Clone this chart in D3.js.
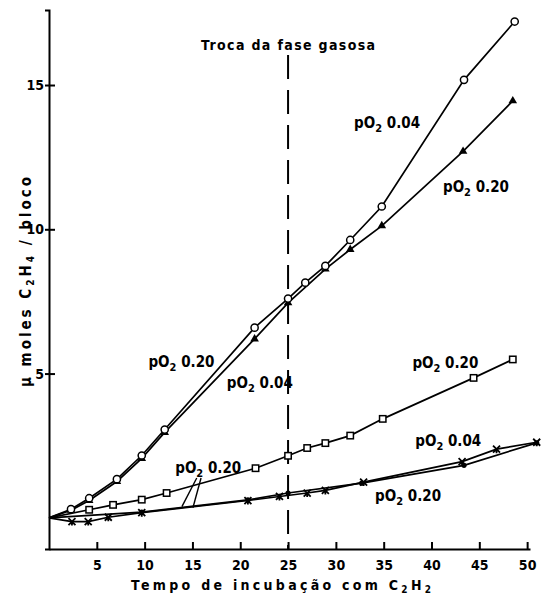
<!DOCTYPE html>
<html lang="en">
<head>
<meta charset="UTF-8">
<script src="https://d3js.org/d3.v7.min.js"></script>
<style>
  body { margin: 0; background: #fff; }
  svg { font-family: "DejaVu Sans Condensed", "DejaVu Sans", sans-serif; font-weight: bold; }
  .axis path, .axis line { stroke: #000; stroke-width: 2; }
  .axis text { font-size: 14px; font-family: "DejaVu Sans Condensed", sans-serif; font-weight: bold; fill: #000; }
  .curve { fill: none; stroke: #000; stroke-width: 1.7; }
</style>
</head>
<body>
<script>
// upper pair (open circles / filled triangles)
const timeCirc = [0, 2.3, 4.2, 7.1, 9.7, 12.1, 21.5, 25, 26.8, 28.9, 31.5, 34.8, 43.4, 48.7];
const circVals = [0, 0.3, 0.68, 1.34, 2.16, 3.06, 6.59, 7.6, 8.15, 8.73, 9.63, 10.79, 15.18, 17.2];
const timeTri = [0, 2.3, 4.2, 7.1, 9.7, 12.1, 21.5, 25, 28.9, 31.5, 34.8, 43.3, 48.5];
const triVals = [0, 0.26, 0.6, 1.26, 2.06, 2.96, 6.2, 7.45, 8.62, 9.3, 10.12, 12.7, 14.45];
// open squares
const timeSq = [0, 4.2, 6.7, 9.7, 12.3, 21.6, 25, 27, 28.9, 31.5, 34.9, 44.4, 48.5];
const sqVals = [0, 0.28, 0.45, 0.63, 0.86, 1.72, 2.15, 2.42, 2.59, 2.85, 3.43, 4.85, 5.49];
// lower pair (crosses / filled dots)
const timeX = [0, 2.4, 4.1, 6.2, 9.7, 20.8, 24.1, 27, 28.9, 32.9, 43.2, 46.8, 51];
const xVals = [0, -0.13, -0.13, 0.02, 0.18, 0.6, 0.74, 0.86, 0.95, 1.24, 1.95, 2.38, 2.62];
const timeDot = [0, 9.7, 20.8, 25, 32.7, 43.4, 51];
const dotVals = [0, 0.2, 0.62, 0.86, 1.2, 1.82, 2.6];

const xTicks = [5, 10, 15, 20, 25, 30, 35, 40, 45, 50];
const yTicks = [5, 10, 15];
const exchangeTime = 25;

// labels: [time, value, oxygen text]
const labels = [
  [31.9, 13.5, "0.04"],
  [41.2, 11.3, "0.20"],
  [10.4, 5.24, "0.20"],
  [18.6, 4.5, "0.04"],
  [38.0, 5.2, "0.20"],
  [13.2, 1.56, "0.20"],
  [38.3, 2.5, "0.04"],
  [34.1, 0.6, "0.20"]
];
// leader lines from the lower-left label
const leaders = [
  [[15.45, 1.38], [13.9, 0.39]],
  [[15.9, 1.38], [15.05, 0.35]]
];

const W = 543, H = 594;
const svg = d3.select('body').append('svg').attr('width', W).attr('height', H);

const x = d3.scaleLinear().domain([0, 50.3]).range([49, 530]);
const y = d3.scaleLinear().domain([-1.08, 17.6]).range([549, 10]);

// axes
const gx = svg.append('g').attr('class', 'axis')
  .attr('transform', `translate(0,${y.range()[0]})`)
  .call(d3.axisBottom(x).tickValues(xTicks).tickSizeInner(-7).tickSizeOuter(0).tickPadding(8));
gx.selectAll('.tick text').attr('dy', '0.9em');

const gy = svg.append('g').attr('class', 'axis')
  .attr('transform', `translate(${x.range()[0]},0)`)
  .call(d3.axisLeft(y).tickValues(yTicks).tickSizeOuter(0).tickSize(4).tickPadding(1));
gy.selectAll('.tick line').attr('x1', -4).attr('x2', 6);

// exchange line
svg.append('line')
  .attr('x1', x(exchangeTime)).attr('x2', x(exchangeTime))
  .attr('y1', 55).attr('y2', y.range()[0])
  .attr('stroke', '#000').attr('stroke-width', 2)
  .attr('stroke-dasharray', '24,11');

svg.append('text').attr('x', x(exchangeTime)).attr('y', 50)
  .attr('text-anchor', 'middle').attr('font-size', 14)
  .attr('textLength', 174).text('Troca da fase gasosa');

// axis titles
const xt = svg.append('text').attr('x', 281).attr('y', 590)
  .attr('text-anchor', 'middle').attr('font-size', 14)
  .attr('textLength', 300).attr('lengthAdjust', 'spacing');
xt.append('tspan').text('Tempo  de  incubação  com C');
xt.append('tspan').attr('font-size', 10).attr('dy', 3).text('2');
xt.append('tspan').attr('dy', -3).text('H');
xt.append('tspan').attr('font-size', 10).attr('dy', 3).text('2');

const yt = svg.append('text').attr('transform', 'translate(31,282) rotate(-90)')
  .attr('text-anchor', 'middle').attr('font-size', 15)
  .attr('textLength', 210).attr('lengthAdjust', 'spacing');
yt.append('tspan').text('μ moles C');
yt.append('tspan').attr('font-size', 10).attr('dy', 3).text('2');
yt.append('tspan').attr('dy', -3).text('H');
yt.append('tspan').attr('font-size', 10).attr('dy', 3).text('4');
yt.append('tspan').attr('dy', -3).text(' / bloco');

// curves
const line = d3.line().x(d => x(d[0])).y(d => y(d[1]));
const zip = (t, v) => t.map((d, i) => [d, v[i]]);
const circ = zip(timeCirc, circVals), tri = zip(timeTri, triVals), sq = zip(timeSq, sqVals);
const crs = zip(timeX, xVals), dot = zip(timeDot, dotVals);

[circ, tri, sq, crs, dot].forEach(s => {
  svg.append('path').datum(s).attr('class', 'curve').attr('d', line);
});

// markers
svg.selectAll('.tri').data(tri.slice(1)).join('path')
  .attr('transform', d => `translate(${x(d[0])},${y(d[1])})`)
  .attr('d', d3.symbol(d3.symbolTriangle, 32)).attr('fill', '#000');
svg.selectAll('.circ').data(circ.slice(1)).join('circle')
  .attr('cx', d => x(d[0])).attr('cy', d => y(d[1])).attr('r', 3.6)
  .attr('fill', '#fff').attr('stroke', '#000').attr('stroke-width', 1.5);
svg.selectAll('.sq').data(sq.slice(1)).join('rect')
  .attr('x', d => x(d[0]) - 3.2).attr('y', d => y(d[1]) - 3.2)
  .attr('width', 6.4).attr('height', 6.4)
  .attr('fill', '#fff').attr('stroke', '#000').attr('stroke-width', 1.5);
svg.selectAll('.dot').data(dot.slice(1)).join('circle')
  .attr('cx', d => x(d[0])).attr('cy', d => y(d[1])).attr('r', 2.6).attr('fill', '#000');
svg.selectAll('.crs').data(crs.slice(1)).join('path')
  .attr('transform', d => `translate(${x(d[0])},${y(d[1])})`)
  .attr('d', 'M-3.5,-3.5L3.5,3.5M3.5,-3.5L-3.5,3.5M0,0L0,4')
  .attr('stroke', '#000').attr('stroke-width', 1.8).attr('fill', 'none');

// leaders
leaders.forEach(l => {
  svg.append('line')
    .attr('x1', x(l[0][0])).attr('y1', y(l[0][1]))
    .attr('x2', x(l[1][0])).attr('y2', y(l[1][1]))
    .attr('stroke', '#000').attr('stroke-width', 1.4);
});

// series labels
labels.forEach(([t, v, txt]) => {
  const tx = svg.append('text').attr('x', x(t)).attr('y', y(v)).attr('font-size', 15);
  tx.append('tspan').text('pO');
  tx.append('tspan').attr('font-size', 11).attr('dy', 4).text('2');
  tx.append('tspan').attr('dy', -4).text(' ' + txt);
});
</script>
</body>
</html>
